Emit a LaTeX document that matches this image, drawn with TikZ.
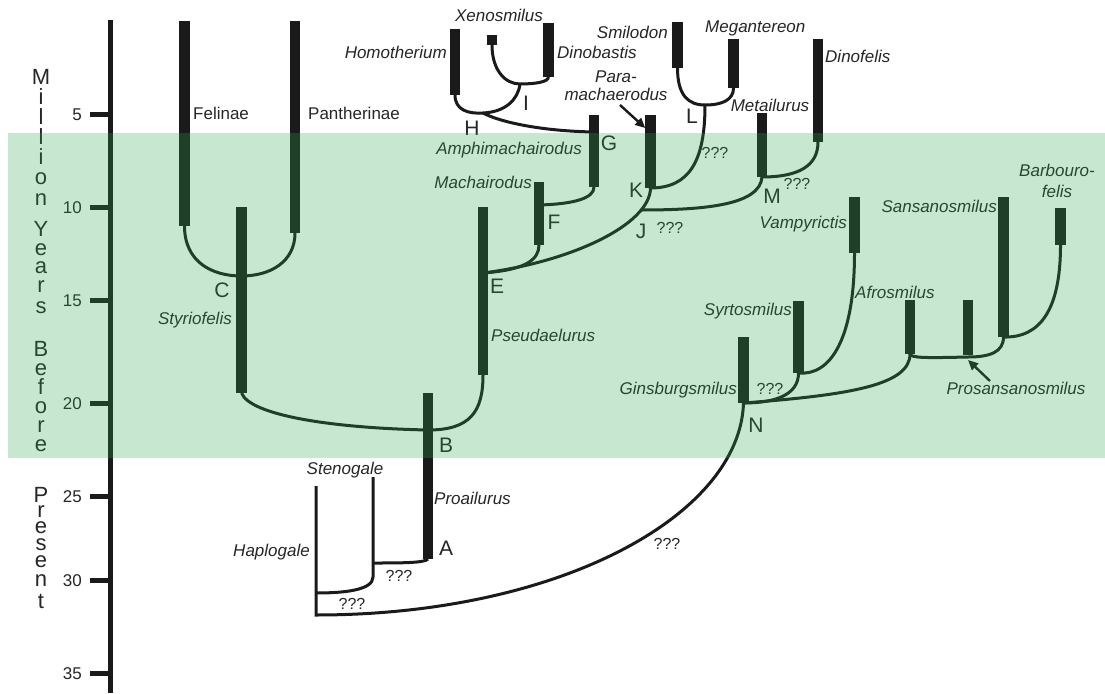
\documentclass[tikz,border=0pt]{standalone}
\usepackage{fontspec}
\setmainfont{Liberation Sans}
\usetikzlibrary{arrows.meta}
\definecolor{ink}{RGB}{26,26,26}
\definecolor{txt}{RGB}{38,38,38}
\definecolor{band}{RGB}{49,165,79}
\newcommand\taxbar[5][10.5]{%
  \pgfmathsetmacro\tbh{#5-#4}%
  \pgfmathsetmacro\tbc{(#4+#5)/2}%
  \node[barnode, minimum width=#1pt, minimum height=\tbh pt] (#2) at (#3,\tbc) {};}
\tikzset{
  barnode/.style={fill=ink, draw=none, inner sep=0pt, outer sep=0pt, rectangle},
  conn/.style={draw=ink, line width=3pt, line join=round},
  gen/.style={font=\fontsize{17}{18}\selectfont\itshape, text=txt, inner sep=0pt},
  grp/.style={font=\fontsize{17}{18}\selectfont, text=txt, inner sep=0pt},
  clade/.style={font=\fontsize{21}{23}\selectfont, text=txt, inner sep=0pt, anchor=base},
  qq/.style={font=\fontsize{16}{18}\selectfont, text=txt, inner sep=0pt, anchor=base},
  ticklbl/.style={font=\fontsize{17}{19}\selectfont, text=txt, inner sep=0pt, anchor=base east},
  vword/.style={font={\fontsize{22}{0}\selectfont\lineskiplimit=-1000pt\lineskip=0pt\relax}, text=txt, inner sep=0pt, align=center, anchor=north},
  arr/.style={draw=ink, line width=2.4pt, -{Triangle[length=10pt,width=9pt]}},
}
\begin{document}
\begin{tikzpicture}[x=1pt,y=-1pt]
\useasboundingbox (0,0) rectangle (1105,693);
\fill[white] (0,0) rectangle (1105,693);

% ---------- time axis ----------
\coordinate (axtop) at (110,20);
\coordinate (axbot) at (110,693);
\draw[ink, line width=5pt] (axtop) -- (axbot);
\foreach \v/\y in {5/114,10/207,15/300,20/403,25/496,30/580,35/673}{
  \coordinate (tk\v) at (110,\y);
  \coordinate (tke\v) at (90,\y);
  \draw[ink, line width=5pt] (tk\v) -- (tke\v);
  \node[ticklbl] (tl\v) at (82,\y+6.5) {\v};
}
\node[vword] (wmil) at (41,69.5) {M\\[20pt]i\\[20pt]l\\[20pt]l\\[20pt]i\\[20pt]o\\[21pt]n};
\node[vword] (wyea) at (41,221.5) {Y\\[19pt]e\\[18pt]a\\[19pt]r\\[21pt]s};
\node[vword] (wbef) at (41,341.5) {B\\[19pt]e\\[19pt]f\\[19pt]o\\[19pt]r\\[19pt]e};
\node[vword] (wpre) at (41,487.5) {P\\[15pt]r\\[16pt]e\\[17pt]s\\[17pt]e\\[19pt]n\\[22pt]t};

% ---------- bars ----------
\taxbar{fel}{184.5}{21}{226}
\taxbar{pan}{295}{21}{233}
\taxbar{sty}{241.5}{207}{393}
\taxbar[10]{pro}{428}{393}{559}
\taxbar{pse}{483}{207}{375}
\taxbar{mac}{539}{182}{245}
\taxbar{amp}{594}{115}{187}
\taxbar{hom}{455}{29}{95}
\taxbar[10]{xen}{492}{35}{45}
\taxbar{din}{548.5}{23}{77}
\taxbar{par}{650.5}{115}{188}
\taxbar{smi}{677.5}{22}{68}
\taxbar{meg}{733.5}{39}{88}
\taxbar{met}{762}{113}{177}
\taxbar{dnf}{818}{39}{142}
\taxbar{vam}{854.5}{197}{253}
\taxbar{syr}{798.5}{301}{373}
\taxbar{gin}{743.5}{337}{403}
\taxbar{afr}{910}{300}{354}
\taxbar{prs}{968}{300}{355}
\taxbar{san}{1003.5}{197}{337}
\taxbar{bbf}{1060.5}{208}{245}

% ---------- junction points ----------
\coordinate (Cj) at (241.5,276);
\coordinate (Bj) at (428,430);
\coordinate (Ej) at (483,273);
\coordinate (Fj) at (539,205);
\coordinate (Gj) at (594,132);
\coordinate (Hj) at (483,113);
\coordinate (Ij) at (520,84);
\coordinate (Jj) at (641,210);
\coordinate (Lj) at (705,105);
\coordinate (Nj) at (743.5,403);
\coordinate (Pj) at (968,357);
\coordinate (hapT) at (316,486);
\coordinate (hapB) at (316,615);
\coordinate (hapS) at (316,593);
\coordinate (steT) at (373,477);
\coordinate (steA) at (373,563);
\coordinate (steB) at (373,577);

% ---------- connectors ----------
\draw[conn] (fel.south) .. controls (184.5,262) and (212,276) .. (Cj) .. controls (270,276) and (295,262) .. (pan.south);
\draw[conn] (sty.south) .. controls (250,415) and (330,428) .. (Bj);
\draw[conn] (Bj) .. controls (470,430) and (483,412) .. (pse.south);
\draw[conn] (Ej) .. controls (525,270) and (539,260) .. (mac.south);
\draw[conn] (Ej) .. controls (570,262) and (650,225) .. (par.south);
\draw[conn] (Jj) .. controls (705,210) and (760,205) .. (met.south);
\draw[conn] (met.south) .. controls (800,177) and (818,165) .. (dnf.south);
\draw[conn] (par.south) .. controls (690,188) and (705,160) .. (Lj);
\draw[conn] (smi.south) .. controls (677.5,95) and (688,105) .. (Lj) .. controls (722,105) and (733.5,100) .. (meg.south);
\draw[conn] (Fj) .. controls (575,204) and (594,198) .. (amp.south);
\draw[conn] (Gj) .. controls (540,131) and (500,122) .. (Hj);
\draw[conn] (hom.south) .. controls (455,110) and (468,114) .. (Hj) .. controls (505,112) and (518,100) .. (Ij);
\draw[conn] (xen.south) .. controls (492,70) and (505,84) .. (Ij) .. controls (535,84) and (548.5,82) .. (din.south);
\draw[conn] (steT) -- (steB) .. controls (373,590) and (345,593) .. (hapS);
\draw[conn] (steA) .. controls (400,563) and (425,563) .. (pro.south);
\draw[conn, line join=miter] (hapT) -- (hapB) .. controls (560,615) and (740,515) .. (Nj);
\draw[conn] (Nj) .. controls (775,403) and (798.5,395) .. (syr.south);
\draw[conn] (syr.south) .. controls (830,376) and (854.5,340) .. (vam.south);
\draw[conn] (Nj) .. controls (850,395) and (910,385) .. (afr.south);
\draw[conn] (afr.south) .. controls (911,358) and (925,358) .. (Pj) .. controls (990,357) and (1003.5,352) .. (san.south);
\draw[conn] (san.south) .. controls (1040,338) and (1060.5,310) .. (bbf.south);

% ---------- labels ----------
\node[grp, anchor=base west] (lfel) at (193,119) {Felinae};
\node[grp, anchor=base west] (lpan) at (308,119) {Pantherinae};
\node[gen, anchor=base east] (lsty) at (232,324) {Styriofelis};
\node[gen, anchor=base west] (lpro) at (434,504) {Proailurus};
\node[gen, anchor=base] (lste) at (345,474) {Stenogale};
\node[gen, anchor=base east] (lhap) at (310,556) {Haplogale};
\node[gen, anchor=base west] (lpse) at (491,341) {Pseudaelurus};
\node[gen, anchor=base east] (lmac) at (532,188) {Machairodus};
\node[gen, anchor=base east] (lamp) at (582,154) {Amphimachairodus};
\node[gen, anchor=base east] (lhom) at (447,59) {Homotherium};
\node[gen, anchor=base] (lxen) at (499,22) {Xenosmilus};
\node[gen, anchor=base west] (ldin) at (557,59) {Dinobastis};
\node[gen, align=center, anchor=center] (lpar) at (616,86) {Para-\\machaerodus};
\node[gen, anchor=base east] (lsmi) at (668,38) {Smilodon};
\node[gen, anchor=base west] (lmeg) at (705,33) {Megantereon};
\node[gen, anchor=base] (lmet) at (770,111) {Metailurus};
\node[gen, anchor=base west] (ldnf) at (825,63) {Dinofelis};
\node[gen, anchor=base east] (lvam) at (847,228) {Vampyrictis};
\node[gen, anchor=base west] (lafr) at (855,298) {Afrosmilus};
\node[gen, anchor=base east] (lsyr) at (792,315) {Syrtosmilus};
\node[gen, anchor=base east] (lgin) at (737,394) {Ginsburgsmilus};
\node[gen, anchor=base east] (lsan) at (997,212) {Sansanosmilus};
\node[gen, align=center, anchor=center, font=\fontsize{17}{21}\selectfont\itshape] (lbbf) at (1057,181) {Barbouro-\\felis};
\node[gen, anchor=base] (lprs) at (1016,394) {Prosansanosmilus};

\node[clade] (cA) at (446,555) {A};
\node[clade] (cB) at (446,452) {B};
\node[clade] (cC) at (222,297.5) {C};
\node[clade] (cE) at (497,293) {E};
\node[clade] (cF) at (554,229.5) {F};
\node[clade] (cG) at (609,150) {G};
\node[clade] (cH) at (472,135.5) {H};
\node[clade] (cI) at (526,110) {I};
\node[clade] (cJ) at (641,238.5) {J};
\node[clade] (cK) at (636,197.5) {K};
\node[clade] (cL) at (692,123.5) {L};
\node[clade] (cM) at (772,203.5) {M};
\node[clade] (cN) at (756,432.5) {N};

\node[qq] (q1) at (399,581) {???};
\node[qq] (q2) at (352,609) {???};
\node[qq] (q3) at (667,549) {???};
\node[qq] (q4) at (670,233) {???};
\node[qq] (q5) at (715,158) {???};
\node[qq] (q6) at (797,189) {???};
\node[qq] (q7) at (770,394) {???};

% ---------- arrows ----------
\coordinate (parArr) at (620,105);
\draw[arr] (parArr) -- ([yshift=-13pt]par.north west);
\coordinate (prsArr) at (990,381);
\draw[arr] (prsArr) -- ([yshift=-5pt]prs.south);

% ---------- green band (translucent overlay) ----------
\fill[band, opacity=0.266] (8,133) rectangle (1105,458);
\end{tikzpicture}
\end{document}
